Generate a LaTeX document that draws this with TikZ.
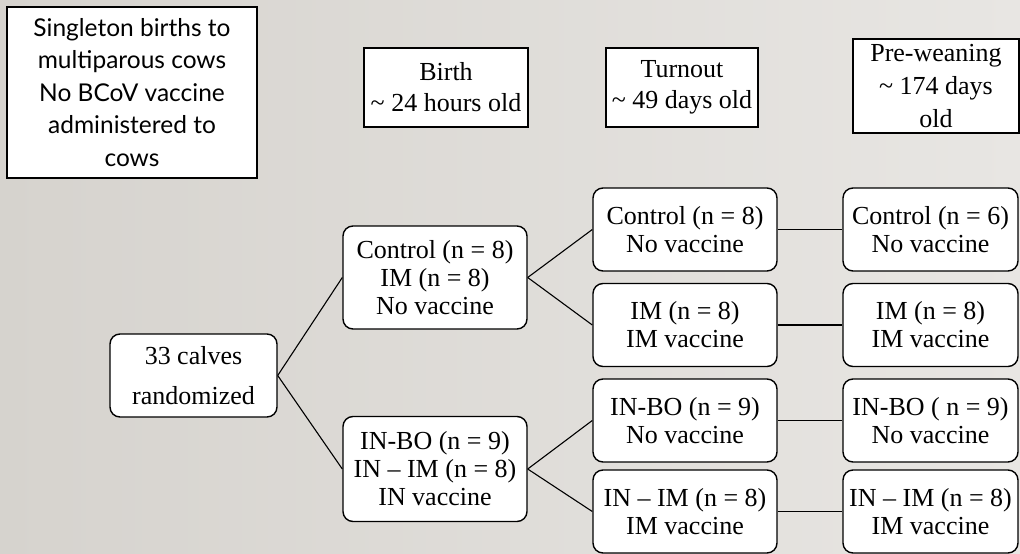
\documentclass[tikz,border=0pt]{standalone}
\usepackage{fontspec}
\setmainfont{Liberation Serif}
\newfontfamily\gill{Lato}
\begin{document}
\begin{tikzpicture}[x=1pt,y=-1pt,
  hdr/.style={draw=black, line width=1.2pt, fill=white, align=center, inner sep=0pt,
    font=\fontsize{26}{31}\selectfont},
  rbox/.style={draw=black, line width=1.4pt, fill=white, rounded corners=10pt, align=center,
    inner sep=0pt, font=\fontsize{26}{28}\selectfont},
  link/.style={draw=black, line width=1.1pt}]
\shade[left color={rgb,255:red,214;green,211;blue,206}, right color={rgb,255:red,232;green,230;blue,227}]
  (0,0) rectangle (1020,554);
\useasboundingbox (0,0) rectangle (1020,554);
% header boxes
\node[hdr, minimum width=250pt, minimum height=171pt, font=\gill\fontsize{24.5}{32.5}\selectfont]
  (note) at (132,92.5) {Singleton births to\\multiparous cows\\No BCoV vaccine\\administered to\\cows};
\node[hdr, minimum width=164pt, minimum height=79pt] (birth) at (446,87.5) {Birth\\\textasciitilde{} 24 hours old};
\node[hdr, minimum width=152pt, minimum height=79pt] (turn) at (682,87.5) {Turnout\\\textasciitilde{} 49 days old};
\node[hdr, minimum width=166pt, minimum height=94pt, font=\fontsize{26}{33}\selectfont]
  (pre) at (936,86) {Pre-weaning\\\textasciitilde{} 174 days\\old};
% tree
\node[rbox, minimum width=167pt, minimum height=83pt, font=\fontsize{26}{40}\selectfont]
  (calves) at (193.5,375.5) {33 calves\\randomized};
\node[rbox, minimum width=184pt, minimum height=103pt] (ga) at (435,277.5) {Control (n = 8)\\IM (n = 8)\\No vaccine};
\node[rbox, minimum width=184pt, minimum height=105pt] (gb) at (435,469) {IN-BO (n = 9)\\IN – IM (n = 8)\\IN vaccine};
\node[rbox, minimum width=184pt, minimum height=83pt] (t1) at (685,229.5) {Control (n = 8)\\No vaccine};
\node[rbox, minimum width=184pt, minimum height=83pt] (t2) at (685,325) {IM (n = 8)\\IM vaccine};
\node[rbox, minimum width=184pt, minimum height=83pt] (t3) at (685,420.5) {IN-BO (n = 9)\\No vaccine};
\node[rbox, minimum width=184pt, minimum height=83pt] (t4) at (685,511.5) {IN – IM (n = 8)\\IM vaccine};
\node[rbox, minimum width=175pt, minimum height=83pt] (p1) at (930.5,229.5) {Control (n = 6)\\No vaccine};
\node[rbox, minimum width=175pt, minimum height=83pt] (p2) at (930.5,325) {IM (n = 8)\\IM vaccine};
\node[rbox, minimum width=175pt, minimum height=83pt] (p3) at (930.5,420.5) {IN-BO ( n = 9)\\No vaccine};
\node[rbox, minimum width=175pt, minimum height=83pt] (p4) at (930.5,511.5) {IN – IM (n = 8)\\IM vaccine};
% connectors
\draw[link] (calves.east) -- (ga.west);
\draw[link] (calves.east) -- (gb.west);
\draw[link] (ga.east) -- (t1.west);
\draw[link] (ga.east) -- (t2.west);
\draw[link] (gb.east) -- (t3.west);
\draw[link] (gb.east) -- (t4.west);
\draw[link] (t1.east) -- (p1.west);
\draw[link] (t2.east) -- (p2.west);
\draw[link] (t3.east) -- (p3.west);
\draw[link] (t4.east) -- (p4.west);
\end{tikzpicture}
\end{document}
